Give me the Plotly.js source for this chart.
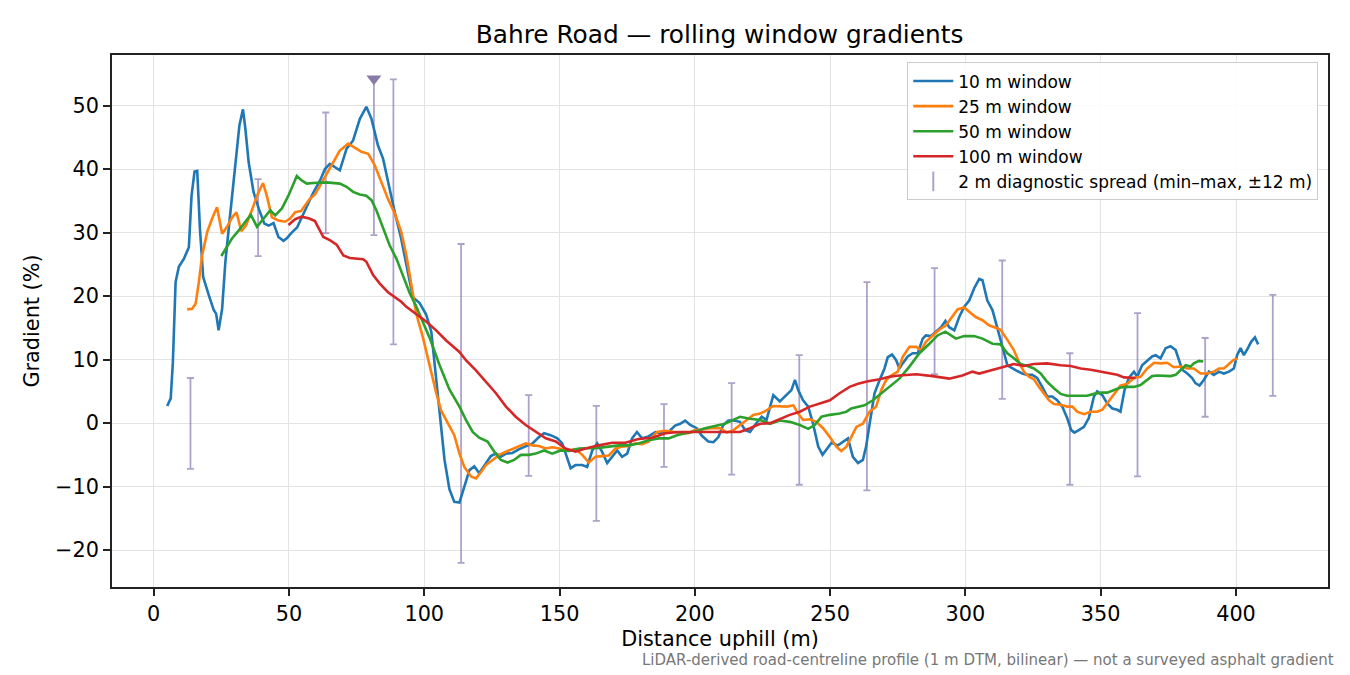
<!DOCTYPE html>
<html>
<head>
<meta charset="utf-8">
<script src="https://cdn.plot.ly/plotly-3.0.1.min.js"></script>
<style>
  html, body { margin: 0; padding: 0; background: #fff; }
  #chart { width: 1350px; height: 675px; }
</style>
</head>
<body>
<div id="chart"></div>
<script>
// 10 m window
const dist10 = [5.0, 6.3, 7.1, 8.1, 9.3, 11.2, 13.0, 14.0, 15.1, 16.1, 17.1, 18.3, 20.4, 22.2, 23.1, 24.0, 25.3, 26.5, 28.0, 30.2,
  31.7, 33.0, 33.9, 35.1, 36.9, 38.8, 40.9, 42.5, 44.3, 46.1, 48.0, 49.2, 51.0, 53.0, 55.0, 57.0, 59.0, 61.5, 63.3, 65.1,
  67.0, 68.8, 71.3, 73.7, 76.2, 78.6, 80.5, 82.9, 84.8, 86.6, 89.1, 91.5, 94.0, 95.8, 98.3, 100.7, 102.6, 104.4, 105.8, 107.5,
  109.3, 111.1, 113.0, 114.8, 116.7, 118.5, 120.3, 122.8, 124.6, 126.5, 128.3, 130.2, 132.6, 135.1, 137.5, 140.0, 142.4, 144.3, 146.7, 149.2,
  151.0, 152.9, 154.1, 155.9, 158.4, 160.2, 162.1, 163.9, 165.7, 167.6, 169.4, 171.3, 173.1, 175.0, 176.8, 178.6, 180.5, 182.9, 185.4, 187.8,
  190.3, 192.7, 194.6, 196.4, 198.3, 200.7, 202.6, 205.0, 206.9, 208.7, 210.5, 212.4, 214.3, 216.7, 218.6, 220.4, 222.2, 224.7, 226.5, 229.0,
  231.4, 233.9, 235.7, 237.0, 238.2, 240.0, 241.9, 243.7, 245.6, 247.2, 248.6, 250.5, 252.9, 254.8, 256.6, 258.4, 260.3, 262.1, 263.3, 264.6,
  266.4, 268.3, 270.1, 271.3, 272.9, 274.4, 275.6, 276.8, 278.7, 280.5, 282.4, 284.2, 285.4, 287.3, 289.1, 291.0, 292.6, 294.0, 295.9, 297.7,
  299.5, 301.4, 303.2, 305.1, 306.3, 308.1, 310.0, 311.8, 313.0, 314.2, 315.5, 317.3, 319.2, 321.0, 322.9, 324.7, 326.5, 328.4, 330.2, 332.1,
  333.9, 335.8, 337.6, 339.1, 340.3, 341.9, 343.8, 345.6, 347.5, 348.7, 350.6, 352.4, 354.3, 356.1, 357.3, 358.8, 360.4, 362.3, 363.5, 365.3,
  367.2, 369.0, 370.3, 372.1, 374.0, 375.8, 377.7, 378.9, 380.1, 382.0, 383.8, 385.0, 386.5, 388.1, 390.0, 391.8, 393.7, 395.5, 397.4, 399.2,
  400.4, 401.7, 402.9, 404.4, 405.6, 407.0, 408.2];
const grad10 = [2.7, 3.9, 9.6, 22.2, 24.6, 25.9, 27.7, 35.8, 39.6, 39.7, 30.6, 23.0, 20.1, 17.8, 17.2, 14.6, 18.0, 25.4, 31.7, 41.1,
  46.9, 49.4, 46.3, 41.1, 36.4, 33.8, 31.4, 31.1, 31.5, 29.3, 28.7, 29.1, 30.0, 30.8, 32.6, 34.3, 36.3, 38.2, 40.0, 40.8,
  40.3, 39.8, 43.2, 44.5, 47.9, 49.8, 47.9, 43.7, 41.6, 37.9, 33.2, 29.0, 23.8, 19.8, 18.9, 17.1, 14.4, 7.0, 1.0, -5.8,
  -10.4, -12.4, -12.5, -10.0, -7.4, -6.8, -7.9, -6.3, -5.2, -4.8, -5.3, -4.8, -4.7, -4.1, -3.7, -3.2, -2.2, -1.6, -1.9, -2.4,
  -3.2, -5.8, -7.1, -6.6, -6.6, -6.9, -4.3, -3.2, -4.5, -6.3, -5.3, -4.3, -5.3, -4.8, -2.4, -1.4, -2.4, -2.1, -1.4, -1.6,
  -1.4, -0.4, -0.1, 0.4, -0.3, -0.8, -2.0, -2.9, -3.0, -2.2, -0.3, 0.4, 0.4, 0.2, -1.1, -1.4, -0.3, 1.0, 0.5, 4.4,
  3.4, 4.4, 5.2, 6.8, 5.2, 3.6, 2.6, -0.1, -3.7, -5.0, -4.2, -3.1, -3.5, -3.0, -2.4, -5.3, -6.3, -5.8, -3.7, -0.1,
  4.7, 6.8, 8.6, 10.4, 10.8, 9.9, 8.6, 9.4, 10.5, 11.0, 11.0, 13.3, 13.8, 13.7, 14.4, 15.1, 16.1, 15.1, 14.6, 16.7,
  18.3, 19.3, 21.2, 22.7, 22.5, 19.3, 17.8, 15.1, 13.0, 11.2, 9.1, 8.6, 8.2, 7.8, 7.6, 7.6, 7.1, 5.7, 4.2, 4.2,
  3.6, 2.6, 0.8, -1.1, -1.5, -1.1, -0.6, 0.8, 4.2, 5.0, 4.4, 3.1, 2.3, 2.1, 1.8, 5.2, 7.1, 8.1, 7.3, 9.1,
  9.9, 10.5, 10.7, 10.2, 11.8, 12.1, 11.5, 9.9, 8.4, 7.8, 7.1, 6.3, 5.9, 6.8, 8.1, 7.6, 8.1, 7.8, 8.1, 8.6,
  10.7, 11.8, 10.7, 11.8, 12.8, 13.5, 12.4];

// 25 m window
const dist25 = [12.4, 14.2, 15.5, 16.7, 17.9, 19.8, 21.6, 23.4, 25.3, 27.1, 29.0, 30.6, 32.4, 34.1, 36.3, 38.2, 40.4, 41.8, 43.7, 46.1,
  48.6, 50.4, 52.3, 54.5, 57.5, 59.6, 61.5, 65.1, 68.8, 71.9, 74.3, 76.8, 79.3, 81.7, 84.2, 86.6, 89.1, 91.5, 93.4, 95.2,
  97.0, 99.5, 102.0, 104.4, 106.2, 108.7, 111.1, 113.0, 114.8, 117.3, 119.1, 121.0, 122.8, 125.3, 127.7, 130.2, 132.6, 135.1, 137.5, 140.0,
  142.4, 144.9, 147.3, 149.8, 152.9, 155.9, 158.4, 160.8, 163.3, 165.7, 168.2, 170.7, 173.1, 175.6, 178.0, 180.5, 182.9, 186.0, 189.1, 192.7,
  195.2, 197.6, 200.1, 202.6, 205.7, 209.4, 211.8, 214.3, 216.7, 219.2, 221.6, 224.1, 226.5, 229.0, 232.1, 233.9, 236.4, 238.2, 240.0, 242.5,
  244.9, 247.4, 249.9, 252.3, 254.1, 256.0, 257.8, 259.7, 262.1, 264.6, 267.0, 268.9, 270.7, 272.6, 275.0, 276.8, 279.3, 281.8, 283.6, 285.4,
  287.9, 290.3, 292.8, 294.6, 297.1, 299.5, 301.4, 303.8, 306.3, 308.7, 311.2, 313.0, 315.5, 317.9, 319.8, 321.6, 323.5, 325.3, 327.2, 329.0,
  330.9, 332.7, 335.2, 337.6, 339.5, 341.3, 343.8, 346.3, 348.7, 350.6, 352.4, 354.9, 357.3, 359.8, 362.3, 364.7, 367.2, 369.7, 372.1, 374.6,
  377.0, 379.5, 382.0, 384.4, 386.9, 389.4, 391.8, 393.7, 395.5, 397.4, 399.2, 400.4];
const grad25 = [17.9, 18.0, 18.8, 22.2, 26.4, 30.1, 32.2, 34.0, 29.8, 30.9, 32.4, 33.2, 30.2, 31.1, 33.5, 35.8, 37.8, 35.8, 32.4, 31.9,
  31.7, 32.2, 33.2, 33.4, 35.2, 36.0, 37.4, 40.0, 42.9, 44.0, 43.4, 42.7, 42.4, 40.6, 37.9, 35.3, 33.0, 30.1, 26.4, 21.7,
  17.3, 13.5, 8.8, 4.8, 2.0, -0.1, -1.9, -4.8, -6.9, -8.4, -8.7, -7.7, -6.6, -5.8, -5.0, -4.5, -4.1, -3.7, -3.2, -3.5,
  -3.6, -4.0, -3.8, -4.0, -4.3, -4.1, -5.0, -6.2, -5.3, -5.2, -5.1, -4.0, -3.7, -3.6, -3.2, -3.3, -2.9, -1.4, -1.2, -1.4,
  -1.6, -1.6, -1.1, -1.0, -0.8, -0.8, -1.5, -1.1, -0.3, 0.5, 1.3, 1.5, 2.0, 2.7, 2.7, 2.6, 2.8, 1.5, 0.5, 0.6,
  0.2, -0.8, -2.2, -3.7, -4.4, -3.7, -2.2, -0.6, -0.1, 1.8, 2.6, 5.2, 6.8, 7.5, 8.1, 10.4, 12.0, 12.0, 11.5, 12.8,
  13.8, 14.7, 15.4, 16.5, 17.9, 18.2, 17.5, 16.7, 16.2, 15.4, 15.0, 14.7, 13.1, 11.5, 9.6, 8.1, 7.3, 6.9, 5.7, 4.7,
  3.6, 3.0, 2.9, 2.6, 2.6, 1.8, 1.4, 1.8, 1.8, 2.1, 3.1, 4.4, 5.9, 6.2, 7.1, 7.3, 8.6, 9.5, 9.4, 9.5,
  8.8, 8.9, 8.6, 8.6, 7.8, 7.8, 8.1, 8.6, 8.6, 9.3, 10.0, 10.1];

// 50 m window
const dist50 = [25.0, 27.1, 29.0, 31.4, 33.9, 35.9, 38.2, 40.6, 43.1, 44.9, 47.4, 49.8, 51.7, 52.9, 54.7, 56.6, 59.0, 63.9, 68.8, 71.3,
  73.7, 76.2, 78.6, 80.5, 82.3, 84.8, 87.2, 89.7, 92.1, 94.6, 97.0, 99.5, 102.2, 105.6, 109.3, 113.0, 115.4, 117.9, 120.3, 123.4,
  125.9, 128.3, 130.8, 133.2, 135.7, 138.8, 141.2, 144.3, 147.3, 150.4, 153.5, 157.2, 160.8, 164.5, 168.2, 171.9, 175.6, 179.2, 182.9, 186.6,
  190.3, 193.4, 196.4, 200.1, 203.8, 207.5, 211.1, 213.6, 216.7, 220.4, 224.1, 227.8, 231.4, 235.1, 238.8, 241.9, 244.3, 246.8, 249.9, 253.5,
  256.0, 257.8, 260.3, 262.7, 265.8, 268.9, 271.9, 275.6, 279.3, 283.0, 286.7, 289.7, 292.6, 294.6, 296.5, 299.5, 303.2, 306.3, 310.0, 313.0,
  315.5, 317.9, 320.4, 322.9, 325.3, 327.8, 330.2, 332.7, 335.2, 337.6, 340.1, 342.6, 345.0, 347.5, 350.0, 352.4, 354.9, 357.3, 359.8, 362.3,
  364.7, 367.2, 369.0, 370.9, 373.3, 375.8, 377.7, 379.5, 381.4, 383.2, 384.4, 386.3, 387.9];
const grad50 = [26.3, 27.7, 29.1, 30.3, 31.7, 32.8, 30.9, 32.2, 33.5, 32.7, 33.8, 35.8, 37.7, 38.9, 38.2, 37.7, 37.8, 37.9, 37.7, 37.2,
  36.4, 36.0, 35.8, 35.1, 33.5, 30.6, 28.0, 25.9, 23.3, 20.5, 18.4, 15.9, 13.2, 9.2, 5.3, 2.6, 0.5, -1.4, -2.3, -2.9,
  -4.5, -5.8, -6.2, -5.8, -5.0, -5.0, -4.8, -4.3, -4.8, -4.3, -4.4, -4.0, -4.0, -3.9, -3.7, -3.5, -3.5, -3.2, -2.7, -2.4,
  -2.4, -1.9, -1.6, -1.3, -0.8, -0.5, -0.1, 0.4, 1.0, 0.7, 0.5, -0.1, 0.4, 0.2, -0.3, -0.9, -0.3, 1.0, 1.3, 1.5,
  1.8, 2.3, 2.5, 2.8, 3.6, 4.7, 5.7, 7.0, 8.9, 11.0, 12.5, 13.8, 14.4, 13.9, 13.3, 13.7, 13.7, 13.3, 12.5, 12.4,
  11.0, 10.2, 9.3, 9.0, 8.6, 7.8, 6.5, 5.5, 4.6, 4.3, 4.3, 4.2, 4.3, 4.6, 4.8, 4.8, 5.2, 5.6, 5.7, 5.7,
  6.0, 6.8, 7.4, 7.5, 7.4, 7.4, 7.6, 8.4, 9.1, 8.9, 9.4, 9.8, 9.7];

// 100 m window
const dist100 = [49.8, 52.3, 54.7, 57.5, 59.6, 60.8, 62.7, 65.1, 67.6, 70.1, 72.5, 77.4, 78.6, 81.1, 83.5, 86.6, 89.7, 91.5, 93.4, 95.8,
  97.0, 100.7, 104.4, 108.1, 113.0, 115.4, 119.1, 122.8, 126.5, 130.2, 133.8, 137.5, 141.2, 144.9, 148.6, 152.2, 155.9, 159.6, 164.5, 169.4,
  174.3, 179.2, 184.2, 189.1, 194.0, 198.9, 203.8, 206.9, 211.8, 216.7, 220.4, 224.1, 227.8, 231.4, 235.1, 238.8, 242.5, 246.2, 249.9, 253.5,
  257.2, 260.3, 264.0, 268.3, 271.9, 275.6, 281.8, 287.9, 294.0, 298.9, 302.6, 305.1, 308.7, 312.4, 315.5, 317.9, 321.6, 325.3, 330.2, 335.2,
  338.9, 342.6, 346.3, 350.0, 353.6, 356.1, 358.6, 361.0, 362.9];
const grad100 = [31.2, 32.1, 32.5, 32.2, 31.8, 30.9, 29.3, 28.8, 28.1, 26.4, 26.0, 25.8, 25.4, 23.3, 22.0, 20.6, 19.6, 19.1, 18.3, 17.5,
  17.2, 16.0, 14.6, 13.0, 11.2, 9.9, 8.3, 6.5, 4.7, 2.6, 1.0, -0.3, -1.4, -2.4, -2.9, -4.0, -4.5, -4.0, -3.5, -3.1,
  -3.1, -2.5, -2.3, -1.6, -1.4, -1.4, -1.5, -1.4, -1.4, -1.4, -0.8, -0.1, 0.0, 0.7, 1.3, 1.8, 2.6, 3.1, 3.6, 4.7,
  5.7, 6.2, 6.6, 6.9, 7.3, 7.5, 7.7, 7.4, 7.0, 7.5, 8.1, 7.8, 8.2, 8.6, 9.0, 9.3, 9.0, 9.3, 9.4, 9.1,
  9.0, 8.6, 8.4, 8.1, 7.7, 7.6, 7.2, 7.1, 7.1];

// 2 m diagnostic spread (min / max within ±12 m)
const spreadX = [13.6, 38.6, 63.6, 88.6, 113.6, 138.6, 163.6, 188.6, 213.6, 238.6, 263.6, 288.6, 313.6, 338.6, 363.6, 388.6, 413.6];
const spreadMin = [-7.2, 26.3, 29.9, 12.4, -22.0, -8.3, -15.4, -6.9, -8.1, -9.7, -10.6, 7.7, 3.8, -9.7, -8.4, 1.0, 4.3];
const spreadMax = [7.1, 38.4, 48.9, 54.1, 28.2, 4.4, 2.7, 3.0, 6.3, 10.7, 22.2, 24.4, 25.6, 11.0, 17.3, 13.4, 20.2];

// spread at the peak, top marked with a triangle
const peakX = [81.4];
const peakMin = [29.6];
const peakMax = [54.2];

const FONT = 'DejaVu Sans, Verdana, sans-serif';
const SPREAD_COLOR = 'rgba(120,100,170,0.6)';

function spreadTrace(xs, lows, highs) {
    const mids = lows.map((lo, i) => (lo + highs[i]) / 2);
    return {
        x: xs,
        y: mids,
        type: 'scatter',
        mode: 'markers',
        marker: { size: 1, color: 'rgba(0,0,0,0)' },
        error_y: {
            type: 'data',
            symmetric: false,
            array: highs.map((h, i) => h - mids[i]),
            arrayminus: lows.map((lo, i) => mids[i] - lo),
            color: SPREAD_COLOR,
            thickness: 1.8,
            width: 3.5
        },
        showlegend: false,
        hoverinfo: 'skip'
    };
}

function lineTrace(xs, ys, name, color) {
    return {
        x: xs,
        y: ys,
        type: 'scatter',
        mode: 'lines',
        name: name,
        line: { color: color, width: 2.6 }
    };
}

const data = [
    spreadTrace(spreadX, spreadMin, spreadMax),
    spreadTrace(peakX, peakMin, peakMax),
    {
        x: peakX,
        y: peakMax,
        type: 'scatter',
        mode: 'markers',
        marker: { symbol: 'triangle-down', size: 13, color: '#8a7aa8' },
        showlegend: false
    },
    lineTrace(dist10, grad10, '10 m window', '#1f77b4'),
    lineTrace(dist25, grad25, '25 m window', '#ff7f0e'),
    lineTrace(dist50, grad50, '50 m window', '#2ca02c'),
    lineTrace(dist100, grad100, '100 m window', '#d62728'),
    // legend entry only
    {
        x: [null],
        y: [null],
        type: 'scatter',
        mode: 'markers',
        name: '2 m diagnostic spread (min–max, ±12 m)',
        marker: { symbol: 'line-ns-open', size: 14, color: '#aea2cc', line: { width: 2, color: '#aea2cc' } }
    }
];

const axisCommon = {
    showline: true,
    mirror: true,
    linecolor: '#222',
    linewidth: 1.7,
    ticks: 'outside',
    ticklen: 7,
    tickwidth: 1.7,
    tickcolor: '#222',
    showgrid: true,
    gridcolor: '#e3e3e3',
    gridwidth: 1.4,
    zeroline: false,
    tickfont: { family: FONT, size: 20.8, color: '#000' }
};

const layout = {
    width: 1350,
    height: 675,
    paper_bgcolor: '#fff',
    plot_bgcolor: '#fff',
    margin: { l: 112, r: 22, t: 55, b: 88 },
    font: { family: FONT, color: '#000' },
    title: {
        text: 'Bahre Road — rolling window gradients',
        font: { family: FONT, size: 24.8, color: '#000' },
        x: 0.533,
        xanchor: 'center',
        y: 1 - 34 / 675,
        yref: 'container',
        yanchor: 'middle'
    },
    xaxis: Object.assign({}, axisCommon, {
        range: [-15.4, 434.0],
        tickmode: 'linear',
        tick0: 0,
        dtick: 50,
        title: { text: 'Distance uphill (m)', font: { family: FONT, size: 20.8, color: '#000' }, standoff: 7 }
    }),
    yaxis: Object.assign({}, axisCommon, {
        range: [-25.8, 57.95],
        tickmode: 'linear',
        tick0: 0,
        dtick: 10,
        title: { text: 'Gradient (%)', font: { family: FONT, size: 20.8, color: '#000' }, standoff: 10 }
    }),
    legend: {
        x: 0.992,
        xanchor: 'right',
        y: 0.986,
        yanchor: 'top',
        bgcolor: 'rgba(255,255,255,0.85)',
        bordercolor: '#cccccc',
        borderwidth: 1,
        itemwidth: 40,
        font: { family: FONT, size: 17, color: '#000' }
    },
    annotations: [{
        text: 'LiDAR-derived road-centreline profile (1 m DTM, bilinear) — not a surveyed asphalt gradient',
        xref: 'paper',
        yref: 'paper',
        x: (1336 - 112) / 1216,
        y: (587 - 660) / 532,
        xanchor: 'right',
        yanchor: 'middle',
        showarrow: false,
        font: { family: FONT, size: 15, color: '#777' }
    }]
};

Plotly.newPlot('chart', data, layout, { displayModeBar: false, responsive: false });
</script>
</body>
</html>
